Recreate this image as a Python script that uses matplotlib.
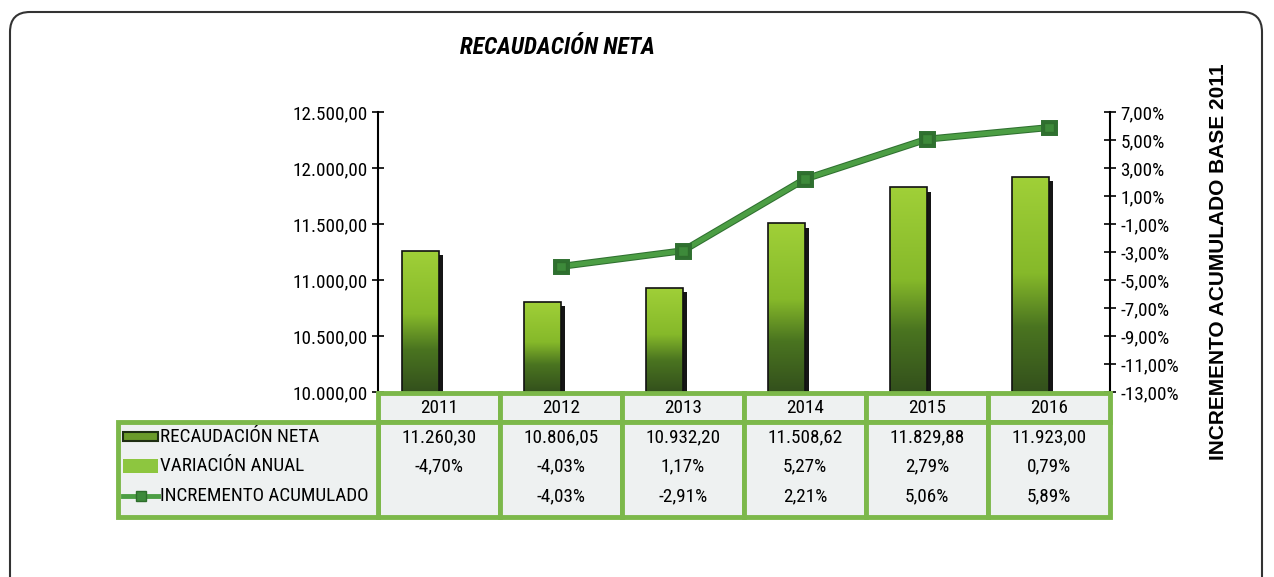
import numpy as np
import matplotlib
matplotlib.use('Agg')
import matplotlib.pyplot as plt
import matplotlib.patheffects as pe
from matplotlib.patches import Rectangle, FancyBboxPatch
from matplotlib.colors import LinearSegmentedColormap
from matplotlib.ticker import FuncFormatter

years = ['2011', '2012', '2013', '2014', '2015', '2016']
recaudacion = [11260.30, 10806.05, 10932.20, 11508.62, 11829.88, 11923.00]
variacion = [-4.70, -4.03, 1.17, 5.27, 2.79, 0.79]
acumulado = [np.nan, -4.03, -2.91, 2.21, 5.06, 5.89]
row_names = ['RECAUDACIÓN NETA', 'VARIACIÓN ANUAL', 'INCREMENTO ACUMULADO']

plt.rcParams['font.family'] = ['Roboto Condensed', 'Archivo Narrow', 'DejaVu Sans']

W, H = 1274, 577
fig = plt.figure(figsize=(W/100, H/100), dpi=100)
fig.patch.set_facecolor('white')

def box(l, t, r, b):
    return [l/W, 1-b/H, (r-l)/W, (b-t)/H]

def fmt_num(v):
    s = f"{v:,.2f}"
    return s.replace(',', 'X').replace('.', ',').replace('X', '.')

def fmt_pct(v):
    return f"{v:.2f}%".replace('.', ',')

GREEN = '#7cb84a'
CELL = '#eef1f1'
FS = 13.8

# frame
frame = FancyBboxPatch((0.10, -0.3), 12.52, 5.95, boxstyle='round,pad=0,rounding_size=0.2',
                       transform=fig.dpi_scale_trans, fc='none', ec='#333333', lw=1.5)
fig.add_artist(frame)

ax = fig.add_axes(box(378, 112, 1110, 392))
ax2 = ax.twinx()

x = np.arange(len(years))
bw = 0.30
cmap = LinearSegmentedColormap.from_list('g', [(0, '#33501c'), (0.3, '#4a7420'),
                                              (0.55, '#86b92a'), (1, '#a0d038')])
grad = np.linspace(0, 1, 256).reshape(-1, 1)
for i, v in enumerate(recaudacion):
    x0 = x[i] - bw
    sh = Rectangle((x0 + 0.035, 10000), bw, v - 10000 - 40, fc='#151515', ec='none', zorder=1.5)
    ax.add_patch(sh)
    r = Rectangle((x0, 10000), bw, v - 10000, fc='none', ec='#111111', lw=1.2, zorder=3)
    ax.add_patch(r)
    im = ax.imshow(grad, extent=[x0, x0 + bw, 10000, v], aspect='auto', cmap=cmap,
                   origin='lower', zorder=2)
    im.set_clip_path(r)

ax.set_xlim(-0.5, 5.5)
ax.set_ylim(10000, 12500)
ax.set_yticks(np.arange(10000, 12501, 500))
ax.yaxis.set_major_formatter(FuncFormatter(lambda v, p: fmt_num(v)))
ax.set_xticks([])

ax2.plot(x, acumulado, color='#4c9e44', lw=3.5, marker='s', ms=7,
         mfc='#3d8a3a', mec='#2e6e2c', mew=1, zorder=4,
         path_effects=[pe.Stroke(linewidth=5, foreground='#2f7030'), pe.Normal()])
ax2.set_ylim(-13, 7)
ax2.set_yticks(np.arange(-13, 8, 2))
ax2.yaxis.set_major_formatter(FuncFormatter(lambda v, p: fmt_pct(v)))

for a in (ax, ax2):
    for s in ('top', 'bottom'):
        a.spines[s].set_visible(False)
    a.tick_params(axis='y', direction='inout', length=9, width=1.2, labelsize=FS, pad=3)
ax.spines['right'].set_visible(False)
ax2.spines['left'].set_visible(False)
ax.spines['left'].set_linewidth(1.5)
ax2.spines['right'].set_linewidth(1.5)
ax.patch.set_alpha(0)

# data table
tab = fig.add_axes(box(118, 392, 1110, 517))
xmin = -0.5 - (378 - 118) / 122
tab.set_xlim(xmin, 5.5)
tab.set_ylim(125, 0)
tab.axis('off')

row_y = [45, 74, 104]
for i, yr in enumerate(years):
    tab.add_patch(Rectangle((i - 0.5, 1), 1, 29, fc=CELL, ec=GREEN, lw=3.5, clip_on=False))
    tab.add_patch(Rectangle((i - 0.5, 30), 1, 95, fc=CELL, ec=GREEN, lw=3.5, clip_on=False))
    tab.text(i, 16, yr, ha='center', va='center', fontsize=FS)
    tab.text(i, row_y[0], fmt_num(recaudacion[i]), ha='center', va='center', fontsize=FS)
    tab.text(i, row_y[1], fmt_pct(variacion[i]), ha='center', va='center', fontsize=FS)
    if not np.isnan(acumulado[i]):
        tab.text(i, row_y[2], fmt_pct(acumulado[i]), ha='center', va='center', fontsize=FS)

tab.add_patch(Rectangle((xmin, 30), -0.5 - xmin, 95, fc=CELL, ec=GREEN, lw=3.5, clip_on=False))
for name, yy in zip(row_names, row_y):
    tab.text(xmin + 42/122, yy, name, ha='left', va='center', fontsize=FS)

k0, k1 = xmin + 5/122, xmin + 40/122
tab.add_patch(Rectangle((k0, 40), k1 - k0, 9, fc='#6a9a2a', ec='#1e2e12', lw=1.5))
tab.add_patch(Rectangle((k0, 67), k1 - k0, 14, fc='#8dc63f', ec='none'))
tab.plot([k0, k1], [104, 104], color='#4c9e44', lw=3.5)
tab.plot([(k0 + k1) / 2], [104], marker='s', ms=7, mfc='#3d8a3a', mec='#2e6e2c')

fig.text(557/W, 1 - 48/H, 'RECAUDACIÓN NETA', ha='center', va='center',
         fontsize=17, fontweight='bold', fontstyle='italic')
fig.text(1218/W, 1 - 262/H, 'INCREMENTO ACUMULADO BASE 2011', rotation=90,
         ha='center', va='center', fontsize=15, fontweight='bold',
         family=['Liberation Sans', 'DejaVu Sans'])

fig.savefig('out.png', dpi=100)
